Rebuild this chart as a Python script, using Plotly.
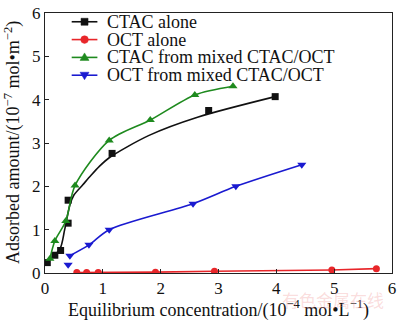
import plotly.graph_objects as go

# Adsorption data (x: equilibrium concentration, 1e-4 mol/L; y: adsorbed amount, 1e-7 mol/m2)
ctac_alone_x = [0.04, 0.17, 0.27, 0.40, 0.40, 1.16, 2.83, 3.98]
ctac_alone_y = [0.24, 0.41, 0.52, 1.15, 1.68, 2.76, 3.75, 4.07]
# fitted isotherm for CTAC alone
ctac_fit_x = [0.04, 0.26, 0.34, 0.43, 0.50, 0.65, 0.80, 0.94, 1.11, 1.79, 2.65, 3.98]
ctac_fit_y = [0.26, 0.56, 1.00, 1.57, 1.80, 2.03, 2.26, 2.46, 2.66, 3.17, 3.60, 4.07]

oct_alone_x = [0.55, 0.72, 0.92, 1.91, 2.93, 4.96, 5.73]
oct_alone_y = [0.01, 0.01, 0.01, 0.02, 0.04, 0.07, 0.10]

ctac_mix_x = [0.085, 0.17, 0.36, 0.52, 1.11, 1.82, 2.59, 3.25]
ctac_mix_y = [0.33, 0.74, 1.20, 2.02, 3.06, 3.53, 4.11, 4.31]

oct_mix_x = [0.40, 0.43, 0.76, 1.11, 2.56, 3.30, 4.44]
oct_mix_y = [0.19, 0.40, 0.65, 1.00, 1.60, 2.00, 2.50]

x_ticks = [0, 1, 2, 3, 4, 5, 6]
y_ticks = [0, 1, 2, 3, 4, 5, 6]

legend_names = ["CTAC alone", "OCT alone", "CTAC from mixed CTAC/OCT", "OCT from mixed CTAC/OCT"]

BLACK = "#111111"
RED = "#e8262a"
GREEN = "#1e8a1e"
BLUE = "#1a1ad0"
FONT = "Liberation Serif"
LW = 1.6

# plot-area geometry in pixels
W, H = 400, 321
ML, MR, MT, MB = 45, 4, 6, 48
PW, PH = W - ML - MR, H - MT - MB

fig = go.Figure()

# CTAC alone: markers + fitted curve
fig.add_trace(go.Scatter(x=ctac_fit_x, y=ctac_fit_y, mode="lines",
                         line=dict(color=BLACK, width=LW, shape="spline", smoothing=0.8), hoverinfo="skip"))
fig.add_trace(go.Scatter(x=ctac_alone_x, y=ctac_alone_y, mode="markers", name=legend_names[0],
                         marker=dict(symbol="square", size=7, color=BLACK)))

# OCT alone
fig.add_trace(go.Scatter(x=oct_alone_x, y=oct_alone_y, mode="lines+markers", name=legend_names[1],
                         line=dict(color=RED, width=LW), marker=dict(symbol="circle", size=7, color=RED)))

# CTAC from mixed
fig.add_trace(go.Scatter(x=ctac_mix_x, y=ctac_mix_y, mode="lines+markers", name=legend_names[2],
                         line=dict(color=GREEN, width=LW, shape="spline", smoothing=0.8),
                         marker=dict(symbol="triangle-up", size=8, color=GREEN)))

# OCT from mixed: curve starts at the second point
fig.add_trace(go.Scatter(x=oct_mix_x[1:], y=oct_mix_y[1:], mode="lines",
                         line=dict(color=BLUE, width=LW, shape="spline", smoothing=0.8), hoverinfo="skip"))
fig.add_trace(go.Scatter(x=oct_mix_x, y=oct_mix_y, mode="markers", name=legend_names[3],
                         marker=dict(symbol="triangle-down", size=8, color=BLUE)))

# compact legend drawn in the upper-left corner
def px_x(p):
    return (p - ML) / PW

def px_y(p):
    return (H - MB - p) / PH

legend_colors = [BLACK, RED, GREEN, BLUE]
legend_shapes = [
    ("path", "M-3.5,-3.5 L3.5,-3.5 L3.5,3.5 L-3.5,3.5 Z"),
    ("circle", None),
    ("path", "M0,4.5 L4.5,-3 L-4.5,-3 Z"),
    ("path", "M0,-4.5 L4.5,3 L-4.5,3 Z"),
]
row0, row_gap = 15, 18.3
for i, (name, color, (kind, path)) in enumerate(zip(legend_names, legend_colors, legend_shapes)):
    yc = px_y(row0 + i * row_gap)
    fig.add_shape(type="line", xref="paper", yref="paper", x0=px_x(72), x1=px_x(98), y0=yc, y1=yc,
                  line=dict(color=color, width=LW))
    if kind == "circle":
        fig.add_shape(type="circle", xref="paper", yref="paper", xsizemode="pixel", ysizemode="pixel",
                      xanchor=px_x(85), yanchor=yc, x0=-3.8, x1=3.8, y0=-3.8, y1=3.8,
                      fillcolor=color, line=dict(color=color, width=0.5))
    else:
        fig.add_shape(type="path", xref="paper", yref="paper", xsizemode="pixel", ysizemode="pixel",
                      xanchor=px_x(85), yanchor=yc, path=path, fillcolor=color,
                      line=dict(color=color, width=0.5))
    fig.add_annotation(text=name, xref="paper", yref="paper", x=px_x(106), y=yc,
                       xanchor="left", yanchor="middle", showarrow=False,
                       font=dict(family=FONT, size=18, color="#111111"))

axis_common = dict(
    showline=True, mirror=True, linecolor="#222222", linewidth=1,
    ticks="inside", ticklen=4, tickcolor="#222222", showgrid=False, zeroline=False,
    ticklabeloverflow="allow",
    tickfont=dict(family=FONT, size=17, color="#111111"),
)

fig.update_layout(
    width=W, height=H,
    margin=dict(l=ML, r=MR, t=MT, b=MB),
    paper_bgcolor="white", plot_bgcolor="white",
    font=dict(family=FONT, color="#111111"),
    showlegend=False,
    xaxis=dict(range=[0, 6], tickvals=x_ticks, ticktext=[str(v) for v in x_ticks],
               title=dict(text="Equilibrium concentration/(10<sup>−4</sup> mol•L<sup>−1</sup>)",
                          font=dict(family=FONT, size=18), standoff=0),
               **axis_common),
    yaxis=dict(range=[0, 6], tickvals=y_ticks, ticktext=[str(v) for v in y_ticks],
               **axis_common),
)

# y-axis title placed close to the left edge
fig.add_annotation(text="Adsorbed amount/(10<sup>−7</sup> mol•m<sup>−2</sup>)", textangle=-90,
                   xref="paper", yref="paper", x=px_x(12), y=px_y(139),
                   xanchor="center", yanchor="middle", showarrow=False,
                   font=dict(family=FONT, size=18, color="#111111"))

fig.add_annotation(text="有色金属在线", xref="paper", yref="paper", x=px_x(390), y=px_y(300),
                   xanchor="right", yanchor="middle", showarrow=False,
                   font=dict(family="Noto Sans CJK SC", size=17, color="rgba(240,140,140,0.30)"))

fig.write_html("out.html")
